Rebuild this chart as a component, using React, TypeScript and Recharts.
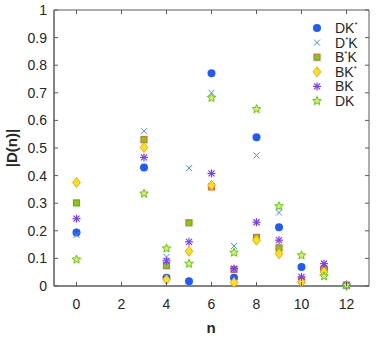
import React from "react";
import { ScatterChart, Scatter, XAxis, YAxis, ReferenceArea } from "recharts";

const nVals = [0, 3, 4, 5, 6, 7, 8, 9, 10, 11, 12];
const dkStar = [0.194, 0.429, 0.03, 0.017, 0.771, 0.03, 0.539, 0.213, 0.069, 0.063, 0.003];
const dStarK = [0.185, 0.561, 0.105, 0.427, 0.7, 0.145, 0.473, 0.266, 0.02, 0.08, 0.003];
const bStarK = [0.301, 0.531, 0.074, 0.229, 0.359, 0.06, 0.176, 0.138, 0.021, 0.06, 0.003];
const bkStar = [0.375, 0.502, 0.023, 0.126, 0.365, 0.013, 0.166, 0.117, 0.015, 0.051, 0.002];
const bk = [0.244, 0.466, 0.091, 0.16, 0.408, 0.063, 0.231, 0.166, 0.033, 0.081, 0.003];
const dk = [0.096, 0.335, 0.136, 0.081, 0.682, 0.121, 0.641, 0.289, 0.111, 0.035, 0.003];

const xTicks = [0, 2, 4, 6, 8, 10, 12];
const yTicks = [0, 0.1, 0.2, 0.3, 0.4, 0.5, 0.6, 0.7, 0.8, 0.9, 1];

const toPts = (vals: number[]) => nVals.map((n, i) => ({ n, v: vals[i] }));

const FONT = "'Liberation Sans', Arial, sans-serif";
const AX = "#5a5a5a";
const TXT = "#262626";
const PLOT_TOP = 10;
const PLOT_RIGHT = 369;

// marker shapes
const Dot = (cx: number, cy: number) => <circle cx={cx} cy={cy} r={4} fill="#1f5cff" />;
const Cross = (cx: number, cy: number) => (
  <g stroke="#3f8cff" strokeWidth={1}>
    <line x1={cx - 3} y1={cy - 3} x2={cx + 3} y2={cy + 3} />
    <line x1={cx - 3} y1={cy + 3} x2={cx + 3} y2={cy - 3} />
  </g>
);
const Sq = (cx: number, cy: number) => (
  <rect x={cx - 3} y={cy - 3} width={6} height={6} fill="#5fe000" stroke="#e8643a" strokeWidth={1.2} />
);
const Dia = (cx: number, cy: number) => (
  <polygon
    points={`${cx},${cy - 5} ${cx + 3.8},${cy} ${cx},${cy + 5} ${cx - 3.8},${cy}`}
    fill="#ffe600"
    stroke="#f0a040"
    strokeWidth={1}
  />
);
const Ast = (cx: number, cy: number) => (
  <g stroke="#7b3cff" strokeWidth={1.2}>
    <line x1={cx} y1={cy - 4} x2={cx} y2={cy + 4} />
    <line x1={cx - 4} y1={cy} x2={cx + 4} y2={cy} />
    <line x1={cx - 3} y1={cy - 3} x2={cx + 3} y2={cy + 3} />
    <line x1={cx - 3} y1={cy + 3} x2={cx + 3} y2={cy - 3} />
  </g>
);
const Star = (cx: number, cy: number) => {
  const pts: string[] = [];
  for (let i = 0; i < 10; i++) {
    const r = i % 2 === 0 ? 4.5 : 2;
    const a = -Math.PI / 2 + (i * Math.PI) / 5;
    pts.push(`${cx + r * Math.cos(a)},${cy + r * Math.sin(a)}`);
  }
  return <polygon points={pts.join(" ")} fill="#d8f25a" stroke="#5cc81e" strokeWidth={1} />;
};

const series = [
  { name: "DK", sup: "*", pos: "after", vals: dkStar, mk: Dot },
  { name: "D", sup: "*", pos: "mid", vals: dStarK, mk: Cross },
  { name: "B", sup: "*", pos: "mid", vals: bStarK, mk: Sq },
  { name: "BK", sup: "*", pos: "after", vals: bkStar, mk: Dia },
  { name: "BK", sup: "", pos: "after", vals: bk, mk: Ast },
  { name: "DK", sup: "", pos: "after", vals: dk, mk: Star },
];

// bottom ticks also draw the matching inward tick on the top edge
const BottomTick = (p: any) => (
  <g>
    <line x1={p.x} y1={p.y} x2={p.x} y2={p.y - 4} stroke={AX} />
    <line x1={p.x} y1={PLOT_TOP} x2={p.x} y2={PLOT_TOP + 4} stroke={AX} />
    <text x={p.x} y={p.y + 23} textAnchor="middle" fontSize={14} fill={TXT} fontFamily={FONT}>
      {p.payload.value}
    </text>
  </g>
);
const LeftTick = (p: any) => (
  <g>
    <line x1={p.x} y1={p.y} x2={p.x + 4} y2={p.y} stroke={AX} />
    <line x1={PLOT_RIGHT} y1={p.y} x2={PLOT_RIGHT - 4} y2={p.y} stroke={AX} />
    <text x={p.x - 7} y={p.y + 5} textAnchor="end" fontSize={14} fill={TXT} fontFamily={FONT}>
      {p.payload.value}
    </text>
  </g>
);

export default function App() {
  return (
    <div style={{ position: "absolute", left: 0, top: 0, width: 377, height: 341, background: "#fff" }}>
      <ScatterChart width={377} height={341} margin={{ top: PLOT_TOP, right: 377 - PLOT_RIGHT, bottom: 0, left: 0 }}>
        <XAxis
          type="number"
          dataKey="n"
          domain={[-1, 13]}
          ticks={xTicks}
          height={55}
          tickSize={0}
          tickMargin={0}
          tickLine={false}
          tick={BottomTick}
          axisLine={{ stroke: AX }}
          allowDataOverflow
        />
        <YAxis
          type="number"
          dataKey="v"
          domain={[0, 1]}
          ticks={yTicks}
          width={54}
          tickSize={0}
          tickMargin={0}
          tickLine={false}
          tick={LeftTick}
          axisLine={{ stroke: AX }}
        />
        <ReferenceArea x1={-1} x2={13} y1={0} y2={1} fill="none" stroke={AX} strokeWidth={1} />
        {series.map((s, i) => (
          <Scatter
            key={i}
            data={toPts(s.vals)}
            isAnimationActive={false}
            shape={(p: any) => s.mk(p.cx, p.cy)}
          />
        ))}
        <text x={211} y={333} textAnchor="middle" fontSize={15} fontWeight="bold" fill={TXT} fontFamily={FONT}>
          n
        </text>
        <text
          x={0}
          y={0}
          transform="translate(17,148) rotate(-90)"
          textAnchor="middle"
          fontSize={15}
          fontWeight="bold"
          fill={TXT}
          fontFamily={FONT}
        >
          |D(n)|
        </text>
        {series.map((s, i) => {
          const y = 28 + i * 14.6;
          return (
            <g key={"lg" + i}>
              {s.mk(317, y)}
              <text x={335} y={y + 5} fontSize={14} fill={TXT} fontFamily={FONT}>
                {s.pos === "mid" ? (
                  <>
                    {s.name}
                    <tspan fontSize={8} dy={-6}>{s.sup}</tspan>
                    <tspan dy={6}>K</tspan>
                  </>
                ) : (
                  <>
                    {s.name}
                    {s.sup ? <tspan fontSize={8} dy={-6}>{s.sup}</tspan> : null}
                  </>
                )}
              </text>
            </g>
          );
        })}
      </ScatterChart>
    </div>
  );
}
